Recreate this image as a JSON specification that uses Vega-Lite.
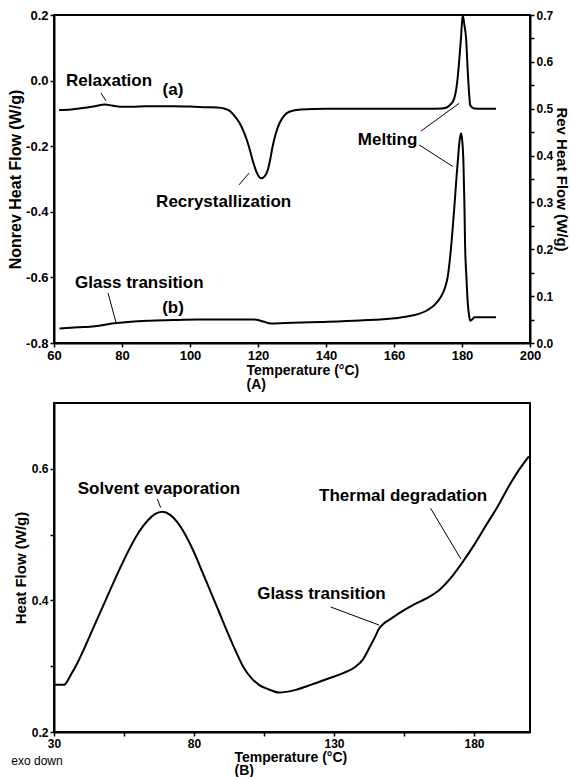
{
  "$schema": "https://vega.github.io/schema/vega-lite/v6.json",
  "padding": {"left": 6, "top": 8, "right": 0, "bottom": 0},
  "spacing": 10,
  "config": {
    "font": "Liberation Sans",
    "view": {"stroke": "black", "strokeWidth": 2},
    "axis": {"grid": false, "domainColor": "black", "domainWidth": 2, "tickColor": "black", "tickWidth": 1.5, "tickSize": 4, "labelColor": "black", "labelFont": "Liberation Sans", "labelFontWeight": "bold", "titleFont": "Liberation Sans", "titleFontWeight": "bold", "titleColor": "black", "labelPadding": 2},
    "line": {"color": "black", "strokeWidth": 2},
    "rule": {"color": "black", "strokeWidth": 1},
    "text": {"font": "Liberation Sans", "fontWeight": "bold", "fontSize": 17, "color": "black"}
  },
  "datasets": {
    "a": [
      {"T": 61.5, "HF": -0.090}, {"T": 65, "HF": -0.088}, {"T": 69, "HF": -0.083}, {"T": 72, "HF": -0.078}, {"T": 75, "HF": -0.073},
      {"T": 77, "HF": -0.076}, {"T": 79.5, "HF": -0.080}, {"T": 83, "HF": -0.080}, {"T": 87, "HF": -0.078}, {"T": 90, "HF": -0.078},
      {"T": 95, "HF": -0.078}, {"T": 100, "HF": -0.079}, {"T": 105, "HF": -0.081}, {"T": 108, "HF": -0.082}, {"T": 110, "HF": -0.085},
      {"T": 111.5, "HF": -0.091}, {"T": 112.9, "HF": -0.105}, {"T": 114.5, "HF": -0.128}, {"T": 116, "HF": -0.161}, {"T": 117.3, "HF": -0.200},
      {"T": 118.4, "HF": -0.242}, {"T": 119.6, "HF": -0.280}, {"T": 120.9, "HF": -0.298}, {"T": 122, "HF": -0.291}, {"T": 122.9, "HF": -0.272},
      {"T": 123.6, "HF": -0.240}, {"T": 124.3, "HF": -0.201}, {"T": 125.2, "HF": -0.163}, {"T": 126.3, "HF": -0.130}, {"T": 127.6, "HF": -0.108},
      {"T": 129.2, "HF": -0.095}, {"T": 132.6, "HF": -0.088}, {"T": 140, "HF": -0.086}, {"T": 150, "HF": -0.086}, {"T": 160, "HF": -0.086},
      {"T": 170, "HF": -0.086}, {"T": 174, "HF": -0.085}, {"T": 175.5, "HF": -0.082}, {"T": 176.7, "HF": -0.072}, {"T": 177.7, "HF": -0.055},
      {"T": 178.4, "HF": -0.020}, {"T": 178.9, "HF": 0.027}, {"T": 179.4, "HF": 0.090}, {"T": 179.7, "HF": 0.129}, {"T": 180.2, "HF": 0.200},
      {"T": 180.7, "HF": 0.170}, {"T": 181.2, "HF": 0.129}, {"T": 181.7, "HF": 0.027}, {"T": 182.1, "HF": -0.040}, {"T": 182.4, "HF": -0.074},
      {"T": 183, "HF": -0.082}, {"T": 183.6, "HF": -0.085}, {"T": 186, "HF": -0.086}, {"T": 190, "HF": -0.086}
    ],
    "b": [
      {"T": 61.6, "HF": 0.031}, {"T": 67, "HF": 0.0335}, {"T": 72, "HF": 0.036}, {"T": 77.7, "HF": 0.042}, {"T": 82.6, "HF": 0.0455},
      {"T": 88.5, "HF": 0.0476}, {"T": 95, "HF": 0.049}, {"T": 102.3, "HF": 0.050}, {"T": 110, "HF": 0.050}, {"T": 118.9, "HF": 0.050},
      {"T": 121.5, "HF": 0.046}, {"T": 123.8, "HF": 0.0415}, {"T": 128, "HF": 0.0425}, {"T": 138.5, "HF": 0.0448}, {"T": 150, "HF": 0.048},
      {"T": 160.1, "HF": 0.0527}, {"T": 165, "HF": 0.058}, {"T": 169.9, "HF": 0.0704}, {"T": 172, "HF": 0.082}, {"T": 173.8, "HF": 0.0988},
      {"T": 175, "HF": 0.118}, {"T": 175.8, "HF": 0.1415}, {"T": 176.6, "HF": 0.19}, {"T": 177.3, "HF": 0.248}, {"T": 177.9, "HF": 0.305},
      {"T": 178.4, "HF": 0.355}, {"T": 178.9, "HF": 0.400}, {"T": 179.2, "HF": 0.426}, {"T": 179.7, "HF": 0.4475}, {"T": 180.1, "HF": 0.43},
      {"T": 180.4, "HF": 0.3905}, {"T": 180.7, "HF": 0.30}, {"T": 180.9, "HF": 0.2128}, {"T": 181.3, "HF": 0.14}, {"T": 181.7, "HF": 0.0847},
      {"T": 182.1, "HF": 0.058}, {"T": 182.4, "HF": 0.0476}, {"T": 183, "HF": 0.050}, {"T": 183.6, "HF": 0.0548}, {"T": 190, "HF": 0.0548}
    ],
    "c": [
      {"T": 30, "HF": 0.2717}, {"T": 33.6, "HF": 0.2717}, {"T": 36, "HF": 0.2868}, {"T": 38.5, "HF": 0.306}, {"T": 40.7, "HF": 0.326},
      {"T": 44, "HF": 0.358}, {"T": 47.9, "HF": 0.395}, {"T": 52.6, "HF": 0.440}, {"T": 57.4, "HF": 0.482}, {"T": 60.5, "HF": 0.505},
      {"T": 63.4, "HF": 0.5211}, {"T": 66, "HF": 0.531}, {"T": 68.7, "HF": 0.5347}, {"T": 71.5, "HF": 0.530}, {"T": 74.1, "HF": 0.5185},
      {"T": 77, "HF": 0.499}, {"T": 80, "HF": 0.4732}, {"T": 83, "HF": 0.443}, {"T": 86, "HF": 0.4127}, {"T": 89, "HF": 0.382},
      {"T": 91.9, "HF": 0.3522}, {"T": 95, "HF": 0.322}, {"T": 97.9, "HF": 0.2968}, {"T": 100.5, "HF": 0.282}, {"T": 103.2, "HF": 0.2717},
      {"T": 106.5, "HF": 0.265}, {"T": 110.4, "HF": 0.260}, {"T": 116.3, "HF": 0.264}, {"T": 122, "HF": 0.272}, {"T": 128.2, "HF": 0.2816},
      {"T": 133, "HF": 0.289}, {"T": 137.7, "HF": 0.2993}, {"T": 140.3, "HF": 0.310}, {"T": 142.5, "HF": 0.327}, {"T": 144.5, "HF": 0.343},
      {"T": 146.1, "HF": 0.3572}, {"T": 147.8, "HF": 0.365}, {"T": 149.6, "HF": 0.370}, {"T": 153, "HF": 0.380}, {"T": 158, "HF": 0.3926},
      {"T": 163, "HF": 0.403}, {"T": 167.5, "HF": 0.4153}, {"T": 171.5, "HF": 0.433}, {"T": 175.9, "HF": 0.458}, {"T": 180, "HF": 0.484},
      {"T": 184.2, "HF": 0.5135}, {"T": 188.5, "HF": 0.543}, {"T": 192.5, "HF": 0.574}, {"T": 196, "HF": 0.598}, {"T": 199.6, "HF": 0.619}
    ],
    "annA": [
      {"T": 76.2, "HF": 0.0, "label": "Relaxation"},
      {"T": 95.0, "HF": -0.029, "label": "(a)"},
      {"T": 109.9, "HF": -0.369, "label": "Recrystallization"},
      {"T": 158.1, "HF": -0.181, "label": "Melting"},
      {"T": 85.1, "HF": -0.617, "label": "Glass transition"},
      {"T": 95.0, "HF": -0.693, "label": "(b)"}
    ],
    "leadA": [
      {"T": 73.8, "HF": -0.038, "T2": 75.3, "HF2": -0.062},
      {"T": 114.4, "HF": -0.318, "T2": 117.4, "HF2": -0.282},
      {"T": 167.9, "HF": -0.154, "T2": 179.2, "HF2": -0.069},
      {"T": 167.4, "HF": -0.196, "T2": 177.3, "HF2": -0.262},
      {"T": 75.9, "HF": -0.648, "T2": 78.2, "HF2": -0.736}
    ],
    "annB": [
      {"T": 67.5, "HF": 0.57, "label": "Solvent evaporation"},
      {"T": 125.5, "HF": 0.409, "label": "Glass transition"},
      {"T": 154.7, "HF": 0.559, "label": "Thermal degradation"}
    ],
    "leadB": [
      {"T": 66.9, "HF": 0.554, "T2": 68.1, "HF2": 0.541},
      {"T": 128.8, "HF": 0.390, "T2": 146.1, "HF2": 0.3625},
      {"T": 164.5, "HF": 0.540, "T2": 175.3, "HF2": 0.463}
    ],
    "note": [
      {"T": 30, "HF": 0.2, "label": "exo down"}
    ]
  },
  "vconcat": [
    {
      "width": 476,
      "height": 328,
      "layer": [
        {
          "layer": [
            {
              "data": {"name": "a"},
              "mark": {"type": "line", "interpolate": "monotone"},
              "encoding": {
                "x": {"field": "T", "type": "quantitative", "scale": {"domain": [60, 200], "nice": false},
                  "axis": {"values": [60, 70, 80, 90, 100, 110, 120, 130, 140, 150, 160, 170, 180, 190, 200], "format": "d", "labelExpr": "datum.value % 20 == 0 ? datum.label : ''", "labelFontSize": 13, "title": ["Temperature (°C)", "(A)"], "titleFontSize": 14, "titleAlign": "left", "titleX": 192, "titlePadding": 1, "titleLineHeight": 14, "labelFlush": false}},
                "y": {"field": "HF", "type": "quantitative", "scale": {"domain": [-0.8, 0.2], "nice": false, "zero": false},
                  "axis": {"values": [-0.8, -0.7, -0.6, -0.5, -0.4, -0.3, -0.2, -0.1, 0, 0.1, 0.2], "format": ".1f", "labelExpr": "abs(round(datum.value * 10)) % 2 == 0 ? replace(datum.label, '−', '-') : ''", "labelFontSize": 13, "title": "Nonrev Heat Flow (W/g)", "titleFontSize": 16, "titlePadding": 2, "labelFlush": false}}
              }
            },
            {
              "data": {"name": "annA"},
              "mark": {"type": "text", "baseline": "middle"},
              "encoding": {
                "x": {"field": "T", "type": "quantitative"},
                "y": {"field": "HF", "type": "quantitative"},
                "text": {"field": "label"}
              }
            },
            {
              "data": {"name": "leadA"},
              "mark": "rule",
              "encoding": {
                "x": {"field": "T", "type": "quantitative"},
                "y": {"field": "HF", "type": "quantitative"},
                "x2": {"field": "T2"},
                "y2": {"field": "HF2"}
              }
            }
          ]
        },
        {
          "data": {"name": "b"},
          "mark": {"type": "line", "interpolate": "monotone"},
          "encoding": {
            "x": {"field": "T", "type": "quantitative"},
            "y": {"field": "HF", "type": "quantitative", "scale": {"domain": [0, 0.7], "nice": false},
              "axis": {"orient": "right", "values": [0, 0.05, 0.1, 0.15, 0.2, 0.25, 0.3, 0.35, 0.4, 0.45, 0.5, 0.55, 0.6, 0.65, 0.7], "format": ".1f", "labelExpr": "round(datum.value * 100) % 10 == 0 ? datum.label : ''", "labelFontSize": 12, "title": "Rev Heat Flow (W/g)", "titleFontSize": 15, "titlePadding": 1, "labelFlush": false}}
          }
        }
      ],
      "resolve": {"scale": {"y": "independent"}}
    },
    {
      "width": 476,
      "height": 329,
      "layer": [
        {
          "data": {"name": "c"},
          "mark": {"type": "line", "interpolate": "monotone"},
          "encoding": {
            "x": {"field": "T", "type": "quantitative", "scale": {"domain": [30, 200], "nice": false},
              "axis": {"values": [30, 55, 80, 105, 130, 155, 180], "format": "d", "labelExpr": "(datum.value - 30) % 50 == 0 ? datum.label : ''", "labelFontSize": 12, "title": ["Temperature (°C)", "(B)"], "titleFontSize": 14, "titleAlign": "left", "titleX": 180, "titlePadding": 1, "titleLineHeight": 13, "labelFlush": false}},
            "y": {"field": "HF", "type": "quantitative", "scale": {"domain": [0.2, 0.7], "nice": false, "zero": false},
              "axis": {"values": [0.2, 0.3, 0.4, 0.5, 0.6], "format": ".1f", "labelExpr": "round(datum.value * 10) % 2 == 0 ? datum.label : ''", "labelFontSize": 12, "title": "Heat Flow (W/g)", "titleFontSize": 15, "titlePadding": 3, "labelFlush": false}}
          }
        },
        {
          "data": {"name": "annB"},
          "mark": {"type": "text", "baseline": "middle"},
          "encoding": {
            "x": {"field": "T", "type": "quantitative"},
            "y": {"field": "HF", "type": "quantitative"},
            "text": {"field": "label"}
          }
        },
        {
          "data": {"name": "leadB"},
          "mark": "rule",
          "encoding": {
            "x": {"field": "T", "type": "quantitative"},
            "y": {"field": "HF", "type": "quantitative"},
            "x2": {"field": "T2"},
            "y2": {"field": "HF2"}
          }
        },
        {
          "data": {"name": "note"},
          "mark": {"type": "text", "fontWeight": "normal", "fontSize": 12, "dx": -17, "dy": 29, "baseline": "middle", "clip": false},
          "encoding": {
            "x": {"field": "T", "type": "quantitative"},
            "y": {"field": "HF", "type": "quantitative"},
            "text": {"field": "label"}
          }
        }
      ]
    }
  ]
}
